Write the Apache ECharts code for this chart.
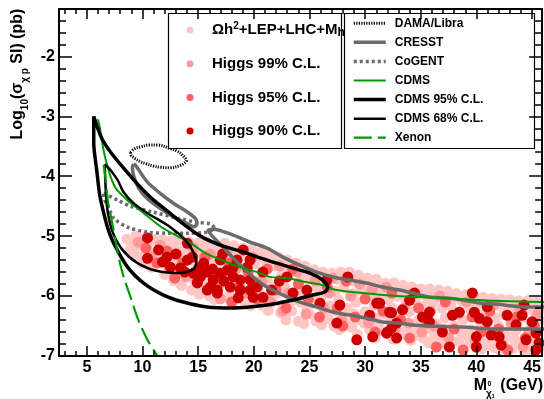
<!DOCTYPE html>
<html>
<head>
<meta charset="utf-8">
<script src="https://cdn.jsdelivr.net/npm/echarts@6/dist/echarts.min.js"></script>
<style>
html,body{margin:0;padding:0;background:#fff;}
#c{width:544px;height:399px;}
</style>
</head>
<body>
<div id="c"></div>
<script>
const FONT = '"Liberation Sans", Arial, Helvetica, sans-serif';

// Axis ranges and tick labels
const xRange = [2.5, 45.9];
const yRange = [-7, -1.21];
const xTicks = [5, 10, 15, 20, 25, 30, 35, 40, 45];
const yTicks = [-7, -6, -5, -4, -3, -2];

// Scan points: [neutralino mass (GeV), log10 sigma_SI (pb)]
const relicLepLhc = [
[8.6,-5.05],[8.9,-5.22],
[9.4,-5.0],[9.7,-5.15],[9.3,-5.3],
[10.2,-5.02],[10.5,-5.25],[10.0,-5.45],
[11.0,-5.05],[11.3,-5.3],[10.8,-5.52],
[11.8,-5.06],[12.1,-5.22],[11.6,-5.45],[12.0,-5.64],
[12.6,-5.08],[12.9,-5.35],[12.4,-5.56],[12.8,-5.74],
[13.4,-5.05],[13.7,-5.25],[13.2,-5.5],[13.5,-5.82],
[14.2,-5.1],[14.5,-5.4],[14.0,-5.62],[14.4,-5.9],
[15.0,-5.12],[15.3,-5.3],[14.8,-5.55],[15.2,-5.8],[15.1,-5.97],
[15.8,-5.1],[16.1,-5.45],[15.7,-5.7],[16.0,-6.0],
[16.6,-5.15],[16.9,-5.36],[16.4,-5.62],[16.8,-5.9],[16.5,-6.06],
[17.4,-5.12],[17.7,-5.5],[17.2,-5.76],[17.6,-6.02],
[18.2,-5.16],[18.5,-5.4],[18.0,-5.66],[18.4,-5.96],[18.1,-6.12],
[19.0,-5.2],[19.3,-5.56],[18.8,-5.8],[19.2,-6.1],
[19.8,-5.22],[20.1,-5.46],[19.6,-5.7],[20.0,-6.0],[19.7,-6.16],
[20.6,-5.27],[20.9,-5.6],[20.4,-5.9],[20.8,-6.16],
[21.4,-5.3],[21.7,-5.5],[21.2,-5.76],[21.6,-6.06],[21.3,-6.24],
[22.2,-5.35],[22.5,-5.66],[22.0,-5.96],[22.4,-6.28],
[23.0,-5.4],[23.3,-5.6],[22.8,-5.86],[23.2,-6.12],[22.9,-6.4],
[23.8,-5.45],[24.1,-5.76],[23.6,-6.06],[24.0,-6.42],
[24.6,-5.5],[24.9,-5.7],[24.4,-5.96],[24.8,-6.22],[24.5,-6.46],
[25.4,-5.56],[25.7,-5.86],[25.2,-6.12],[25.6,-6.42],
[26.2,-5.6],[26.5,-5.8],[26.0,-6.02],[26.4,-6.3],[26.1,-6.48],
[27.0,-5.62],[27.3,-5.92],[26.8,-6.16],[27.2,-6.5],
[27.8,-5.6],[28.1,-5.86],[27.6,-6.06],[28.0,-6.36],[27.7,-6.56],
[28.6,-5.6],[28.9,-5.96],[28.4,-6.2],[28.8,-6.52],
[29.4,-5.65],[29.7,-5.9],[29.2,-6.1],[29.6,-6.4],[29.3,-6.64],
[30.2,-5.7],[30.5,-6.0],[30.0,-6.26],[30.4,-6.56],
[31.0,-5.72],[31.3,-5.96],[30.8,-6.16],[31.2,-6.46],[30.9,-6.7],
[31.8,-5.78],[32.1,-6.06],[31.6,-6.3],[32.0,-6.62],
[32.6,-5.78],[32.9,-6.0],[32.4,-6.2],[32.8,-6.5],[32.5,-6.72],
[33.4,-5.82],[33.7,-6.1],[33.2,-6.36],[33.6,-6.64],
[34.2,-5.85],[34.5,-6.06],[34.0,-6.26],[34.4,-6.56],[34.1,-6.74],
[35.0,-5.88],[35.3,-6.16],[34.8,-6.4],[35.2,-6.7],
[35.8,-5.88],[36.1,-6.1],[35.6,-6.3],[36.0,-6.56],[35.7,-6.78],
[36.6,-5.9],[36.9,-6.2],[36.4,-6.46],[36.8,-6.72],
[37.4,-5.92],[37.7,-6.16],[37.2,-6.36],[37.6,-6.6],[37.3,-6.82],
[38.2,-5.96],[38.5,-6.26],[38.0,-6.5],[38.4,-6.76],
[39.0,-5.98],[39.3,-6.2],[38.8,-6.4],[39.2,-6.66],[38.9,-6.86],
[39.8,-6.0],[40.1,-6.3],[39.6,-6.56],[40.0,-6.8],
[40.6,-6.02],[40.9,-6.26],[40.4,-6.46],[40.8,-6.7],[40.5,-6.88],
[41.4,-6.04],[41.7,-6.36],[41.2,-6.6],[41.6,-6.86],
[42.2,-6.05],[42.5,-6.3],[42.0,-6.5],[42.4,-6.76],[42.1,-6.9],
[43.0,-6.06],[43.3,-6.4],[42.8,-6.66],[43.2,-6.88],
[43.8,-6.08],[44.1,-6.36],[43.6,-6.56],[44.0,-6.8],
[44.6,-6.08],[44.9,-6.46],[44.4,-6.7],[44.8,-6.92],
[45.4,-6.1],[45.7,-6.4],[45.2,-6.6],[45.6,-6.86],
[9.0,-5.1],[9.9,-5.35],[10.6,-5.1],[11.5,-5.35],[12.3,-5.15],[12.2,-5.45],[13.0,-5.2],[13.0,-5.65],
[13.8,-5.4],[14.6,-5.25],[14.7,-5.75],[15.5,-5.2],[15.5,-5.6],[16.2,-5.25],[16.3,-5.85],[17.0,-5.25],
[17.0,-5.6],[17.9,-5.3],[17.9,-5.85],[18.7,-5.28],[18.6,-6.0],[19.5,-5.35],[19.4,-5.95],[20.3,-5.35],
[20.2,-5.75],[21.0,-5.4],[21.0,-6.08],[21.9,-5.45],[21.8,-5.85],[22.7,-5.5],[22.6,-6.15],[23.5,-5.52],
[23.4,-6.25],[24.3,-5.6],[24.2,-6.1],[25.0,-5.6],[25.0,-6.3],[25.8,-5.7],[25.9,-6.0],[26.6,-5.7],
[26.7,-6.38],[27.5,-5.72],[27.4,-6.25],[28.3,-5.7],[28.3,-6.45],[29.0,-5.75],[29.0,-6.3],[29.9,-5.8],
[29.9,-6.45],[30.7,-5.82],[30.7,-6.35],[31.5,-5.85],[31.5,-6.58],[32.3,-5.88],[32.3,-6.4],[33.1,-5.9],
[33.0,-6.6],[33.9,-5.95],[33.8,-6.5],[34.7,-5.95],[34.6,-6.65],[35.5,-6.0],[35.4,-6.55],[36.3,-6.0],
[36.2,-6.7],[37.1,-6.02],[37.0,-6.55],[37.9,-6.05],[37.8,-6.75],[38.7,-6.08],[38.6,-6.6],[39.5,-6.1],
[39.4,-6.78],[40.3,-6.12],[40.2,-6.65],[41.1,-6.15],[41.0,-6.82],[41.9,-6.15],[41.8,-6.7],[42.7,-6.18],
[42.6,-6.85],[43.5,-6.2],[43.4,-6.72],[44.3,-6.22],[44.2,-6.9],[45.1,-6.25],[45.0,-6.75],[45.8,-6.2]
];

const higgs99 = [
[9.6,-5.1],[10.8,-5.35],[11.6,-5.15],[12.4,-5.55],[13.1,-5.3],[13.9,-5.68],[14.6,-5.2],[15.3,-5.6],
[16.1,-5.3],[16.9,-5.8],[17.6,-5.25],[18.4,-5.55],[19.2,-5.95],[19.9,-5.35],[20.7,-5.75],[21.5,-6.1],
[22.3,-5.5],[23.1,-5.95],[23.9,-5.6],[24.7,-6.3],[25.5,-5.75],[26.3,-6.2],[27.1,-5.7],[27.9,-6.4],
[28.7,-6.0],[29.5,-5.8],[30.3,-6.45],[31.1,-6.1],[31.9,-5.85],[32.7,-6.55],[33.5,-6.2],[34.3,-5.95],
[35.1,-6.6],[35.9,-6.25],[36.7,-6.0],[37.5,-6.7],[38.3,-6.3],[39.1,-6.1],[39.9,-6.75],[40.7,-6.4],
[41.5,-6.15],[42.3,-6.8],[43.1,-6.45],[43.9,-6.2],[44.7,-6.6],[45.5,-6.3],[17.0,-6.05],[26.8,-5.95],
[30.6,-5.9],[36.2,-6.5],[41.0,-6.6],[44.2,-6.85],[22.6,-6.25],[33.9,-6.45]
];

const higgs95 = [
[10.3,-5.2],[11.3,-5.45],[12.2,-5.25],[13.6,-5.45],[14.9,-5.75],[15.6,-5.35],[16.4,-5.65],[17.8,-5.45],
[18.7,-5.85],[19.5,-5.6],[20.3,-6.05],[21.2,-5.55],[22.0,-5.9],[22.9,-6.2],[24.0,-5.8],[24.9,-6.05],
[25.9,-6.35],[26.6,-5.85],[27.5,-6.2],[28.3,-5.75],[29.1,-6.35],[30.0,-6.05],[30.9,-6.6],[31.6,-6.25],
[32.4,-5.95],[33.2,-6.4],[34.0,-6.7],[34.8,-6.2],[35.6,-6.45],[36.4,-6.85],[37.2,-6.1],[38.0,-6.55],
[38.8,-6.9],[39.6,-6.35],[40.4,-6.6],[41.2,-6.25],[42.0,-6.55],[42.8,-6.9],[43.6,-6.35],[44.4,-6.7],
[45.2,-6.5],[12.9,-5.7],[18.0,-6.1],[23.5,-5.55],[28.0,-6.5]
];

const higgs90 = [
[10.45,-5.03],[11.44,-5.23],[11.8,-5.43],[10.45,-5.37],[12.51,-5.52],[13.41,-5.53],[14.03,-5.4],[14.57,-5.62],
[15.2,-5.68],[15.82,-5.6],[16.36,-5.73],[14.93,-5.78],[15.82,-5.9],[16.72,-5.9],[14.03,-5.12],[15.2,-5.52],
[16.99,-5.4],[17.61,-5.57],[18.15,-5.68],[19.4,-5.52],[19.67,-5.73],[18.78,-5.9],[17.88,-5.85],[16.09,-5.85],
[20.3,-5.85],[19.94,-6.02],[18.6,-6.03],[16.72,-5.95],[19.05,-5.23],[19.67,-5.4],[18.15,-5.52],[16.99,-5.62],
[18.78,-5.73],[19.67,-5.9],[20.83,-6.02],[22.98,-5.68],[24.77,-5.9],[23.52,-5.95],[26.56,-5.73],[25.94,-6.12],
[27.73,-6.15],[28.44,-5.68],[27.46,-6.45],[29.25,-6.73],[30.68,-6.68],[31.31,-6.12],[31.93,-6.62],[32.38,-6.28],
[32.83,-6.45],[30.41,-6.32],[31.04,-6.12],[32.2,-6.27],[32.38,-6.53],[32.83,-6.7],[33.36,-6.23],[33.99,-6.07],
[34.44,-5.95],[35.15,-6.35],[35.78,-6.27],[35.78,-6.43],[32.02,-6.6],[36.94,-6.6],[37.57,-6.85],[37.84,-6.32],
[38.46,-6.27],[39.63,-5.95],[39.81,-6.27],[40.25,-6.37],[40.97,-6.43],[40.97,-6.18],[39.99,-6.68],[39.99,-6.85],
[41.33,-6.65],[42.04,-6.68],[42.22,-6.82],[42.76,-6.32],[43.56,-6.48],[44.1,-6.32],[44.28,-6.15],[44.46,-6.73],
[45.0,-6.43],[45.35,-6.62],[45.62,-6.78],[45.35,-6.9],
[13.0,-5.3],[13.8,-5.6],[14.5,-5.35],[15.5,-5.45],[16.3,-5.55],[17.3,-5.75],[18.5,-5.4],[17.2,-5.3],
[20.8,-5.6],[21.6,-5.9],[22.3,-5.75],[12.2,-5.35]
];

// Experimental regions and limits
const damaLibra = [
[8.93,-3.6],[9.3,-3.54],[9.83,-3.51],[10.6,-3.48],[11.35,-3.48],[12.5,-3.54],[13.1,-3.58],[13.6,-3.65],
[13.94,-3.745],[13.7,-3.79],[13.4,-3.82],[12.5,-3.86],[11.6,-3.85],[10.99,-3.83],[10.3,-3.79],[9.83,-3.76],
[9.3,-3.7],[8.95,-3.64],[8.93,-3.6]
];
const cresstLow = [
[9.2,-3.8],[9.38,-3.82],[10.43,-4.095],[11.62,-4.29],[12.81,-4.455],[14.01,-4.595],[14.75,-4.705],[14.9,-4.79],
[14.6,-4.845],[14.01,-4.79],[12.81,-4.68],[11.62,-4.54],[10.43,-4.37],[9.68,-4.205],[9.23,-4.01],[9.09,-3.845],[9.2,-3.8]
];
const cresstHigh = [
[46.16,-6.55],[44.73,-6.55],[41.77,-6.55],[38.73,-6.517],[35.78,-6.5],[34.26,-6.483],[33.09,-6.45],[31.57,-6.433],
[30.13,-6.367],[28.61,-6.317],[27.09,-6.267],[25.66,-6.183],[24.14,-6.1],[22.62,-5.983],[21.19,-5.85],[19.94,-5.683],
[19.05,-5.533],[18.15,-5.367],[17.25,-5.183],[16.36,-5.017],[15.91,-4.9],
[16.36,-4.883],[18.15,-4.983],[19.67,-5.1],[21.19,-5.2],[22.62,-5.35],[24.14,-5.483],[25.66,-5.6],[27.09,-5.683],
[28.61,-5.733],[30.13,-5.783],[31.57,-5.85],[33.09,-5.9],[34.26,-5.95],[35.78,-6.017],[37.3,-6.033],[38.73,-6.067],
[40.25,-6.117],[41.77,-6.133],[43.21,-6.167],[44.73,-6.183],[46.16,-6.183]
];
const cogent = [
[6.52,-4.283],[7.77,-4.4],[8.93,-4.5],[10.99,-4.6],[13.14,-4.7],[14.93,-4.767],[16.09,-4.8],[16.45,-4.867],
[15.82,-4.933],[14.03,-4.95],[12.24,-4.95],[10.45,-4.933],[8.66,-4.85],[7.41,-4.7],[6.97,-4.533],[6.52,-4.333],[6.52,-4.283]
];
const cdms = [
[5.98,-3.05],[6.1,-3.12],[6.4,-3.46],[6.7,-3.73],[7.14,-4.01],[7.6,-4.2],[8.64,-4.4],[10.13,-4.62],
[11.62,-4.84],[13.11,-5.0],[14.03,-5.08],[15.2,-5.23],[15.82,-5.3],[16.99,-5.39],[18.78,-5.52],[20.3,-5.6],
[21.46,-5.68],[22.98,-5.7],[24.77,-5.77],[26.2,-5.82],[27.45,-5.9],[29.78,-5.95],[32.83,-6.0],[36.67,-6.03],
[41.77,-6.08],[46.16,-6.1]
];
const cdms95 = [
[5.62,-3.0],[5.98,-3.2],[6.43,-3.4],[7.14,-3.6],[8.31,-3.867],[9.56,-4.133],[10.72,-4.35],[12.24,-4.583],
[13.68,-4.8],[15.2,-5.0],[16.99,-5.15],[19.05,-5.267],[21.19,-5.4],[23.25,-5.517],[25.04,-5.617],[26.2,-5.733],
[26.65,-5.85],[26.38,-5.933],[25.31,-5.983],[23.52,-6.067],[21.19,-6.15],[18.15,-6.2],[15.82,-6.183],[13.68,-6.1],
[11.89,-5.983],[10.1,-5.783],[8.66,-5.517],[7.41,-5.117],[6.88,-4.867],[6.52,-4.617],[6.16,-4.317],[5.89,-3.9],
[5.62,-3.45],[5.62,-3.0]
];
const cdms68 = [
[6.61,-3.8],[7.14,-3.9],[7.77,-4.067],[8.31,-4.267],[9.2,-4.45],[10.45,-4.617],[12.51,-4.85],[13.86,-5.067],
[14.57,-5.267],[14.84,-5.433],[14.57,-5.55],[13.41,-5.617],[11.35,-5.583],[9.56,-5.45],[8.22,-5.233],[7.32,-4.933],
[6.88,-4.6],[6.7,-4.233],[6.61,-3.8]
];
const xenon = [
[6.52,-3.817],[6.7,-4.067],[6.88,-4.4],[7.14,-4.65],[7.41,-4.9],[7.77,-5.283],[8.31,-5.683],[8.93,-6.017],
[9.56,-6.367],[10.45,-6.733],[11.35,-7.0],[11.62,-7.1]
];

const NAME_RELIC = 'Ωh2+LEP+LHC+Mh';
const scanNames = [NAME_RELIC, 'Higgs 99% C.L.', 'Higgs 95% C.L.', 'Higgs 90% C.L.'];
const expNames = ['DAMA/Libra', 'CRESST', 'CoGENT', 'CDMS', 'CDMS 95% C.L.', 'CDMS 68% C.L.', 'Xenon'];

// minor tick positions between labelled ticks
const xMinor = [];
for (let v = 3; v <= 45; v++) if (v % 5 !== 0) xMinor.push(v);
const yMinor = [];
for (let k = 0; k <= 28; k++) {
  const v = Math.round((-7 + k * 0.2) * 10) / 10;
  if (Math.abs(v - Math.round(v)) > 1e-6) yMinor.push(v);
}

const GRAY = '#6b6b6b';
const GREEN = '#009a00';

function frameAxis(position, range, tickVals, len, withLine, labels) {
  return {
    type: 'value', position: position, min: range[0], max: range[1], z: 10,
    splitLine: { show: false },
    axisLine: { show: withLine, onZero: false, lineStyle: { color: '#000', width: 2 } },
    axisTick: { show: true, inside: true, length: len, customValues: tickVals, lineStyle: { color: '#000', width: 1.5 } },
    axisLabel: labels ? Object.assign({ show: true, customValues: tickVals, color: '#000',
      fontFamily: FONT, fontSize: 16, fontWeight: 'bold' }, labels) : { show: false }
  };
}

function scan(name, data, color) {
  return { type: 'scatter', name: name, data: data, symbol: 'circle', symbolSize: 11,
    itemStyle: { color: color, opacity: 1 }, z: 2, silent: true };
}
function curve(name, data, color, width, type, smooth) {
  return { type: 'line', name: name, data: data, symbol: 'none', smooth: smooth,
    lineStyle: { color: color, width: width, type: type }, itemStyle: { color: color },
    z: 3, silent: true, clip: true };
}

const option = {
  animation: false,
  backgroundColor: '#fff',
  grid: { left: 59, right: 1, top: 9, bottom: 43, containLabel: false },
  xAxis: [
    frameAxis('bottom', xRange, xTicks, 10, true, { margin: 4 }),
    frameAxis('bottom', xRange, xMinor, 5, false, null),
    frameAxis('top', xRange, xTicks, 10, true, null),
    frameAxis('top', xRange, xMinor, 5, false, null)
  ],
  yAxis: [
    frameAxis('left', yRange, yTicks, 13, true, { margin: 4 }),
    frameAxis('left', yRange, yMinor, 7, false, null),
    frameAxis('right', yRange, yTicks, 13, true, null),
    frameAxis('right', yRange, yMinor, 7, false, null)
  ],
  legend: [
    {
      data: scanNames, orient: 'vertical', left: 186.5, top: 21, padding: 0,
      itemWidth: 7, itemHeight: 7, itemGap: 15.7, icon: 'circle', selectedMode: false, z: 6,
      textStyle: { fontFamily: FONT, fontSize: 15, fontWeight: 'bold', color: '#000', lineHeight: 18,
        padding: [0, 0, 0, 13.5],
        rich: {
          t: { fontFamily: FONT, fontSize: 15, fontWeight: 'bold', color: '#000', lineHeight: 18, verticalAlign: 'middle' },
          sup: { fontFamily: FONT, fontSize: 10, fontWeight: 'bold', color: '#000', lineHeight: 10, verticalAlign: 'top' },
          sub: { fontFamily: FONT, fontSize: 12, fontWeight: 'bold', color: '#000', lineHeight: 12, verticalAlign: 'bottom' }
        } },
      formatter: function (name) {
        return name === NAME_RELIC ? '{t|Ωh}{sup|2}{t|+LEP+LHC+M}{sub|h}' : name;
      }
    },
    {
      data: expNames, orient: 'vertical', left: 352, top: 16.3, padding: 0,
      itemWidth: 32, itemHeight: 14, itemGap: 5.07, selectedMode: false, z: 6,
      // line samples only, no marker in the middle
      itemStyle: { color: 'rgba(0,0,0,0)', borderColor: 'rgba(0,0,0,0)', borderWidth: 0 },
      lineStyle: { width: 'inherit' },
      textStyle: { fontFamily: FONT, fontSize: 12, fontWeight: 'bold', color: '#000', lineHeight: 14,
        padding: [0, 0, 0, 4] }
    }
  ],
  graphic: [
    { type: 'rect', z: 5, shape: { x: 168.5, y: 13.5, width: 173, height: 135 },
      style: { fill: '#fff', stroke: '#000', lineWidth: 1.2 } },
    { type: 'rect', z: 5, shape: { x: 344.5, y: 13.5, width: 190, height: 135 },
      style: { fill: '#fff', stroke: '#000', lineWidth: 1.2 } },
    { type: 'text', z: 6, x: 18, y: 74, rotation: Math.PI / 2,
      style: { text: '{b|Log}{s|10}{b|(σ}{s|χ p}{b| SI) (pb)}', align: 'center', verticalAlign: 'middle', fill: '#000',
        rich: {
          b: { fontFamily: FONT, fontSize: 16, fontWeight: 'bold', lineHeight: 24, verticalAlign: 'middle', fill: '#000' },
          s: { fontFamily: FONT, fontSize: 10, fontWeight: 'bold', lineHeight: 10, verticalAlign: 'bottom', fill: '#000' }
        } } },
    { type: 'text', z: 6, x: 487, y: 386,
      style: { text: 'M', align: 'right', verticalAlign: 'middle', fill: '#000',
        font: 'bold 16px ' + FONT } },
    { type: 'text', z: 6, x: 543, y: 386,
      style: { text: '(GeV)', align: 'right', verticalAlign: 'middle', fill: '#000',
        font: 'bold 16px ' + FONT } },
    { type: 'text', z: 6, x: 487.5, y: 384,
      style: { text: '0', align: 'left', verticalAlign: 'middle', fill: '#000', font: 'bold 7px ' + FONT } },
    { type: 'text', z: 6, x: 486, y: 394,
      style: { text: 'χ', align: 'left', verticalAlign: 'middle', fill: '#000', font: 'bold 10px ' + FONT } },
    { type: 'text', z: 6, x: 491.5, y: 396.5,
      style: { text: '1', align: 'left', verticalAlign: 'middle', fill: '#000', font: 'bold 6px ' + FONT } }
  ],
  series: [
    scan(NAME_RELIC, relicLepLhc, '#ffc6c6'),
    scan('Higgs 99% C.L.', higgs99, '#ff9b9b'),
    scan('Higgs 95% C.L.', higgs95, '#ff6161'),
    scan('Higgs 90% C.L.', higgs90, '#cc0000'),
    curve('DAMA/Libra', damaLibra, '#000', 3, [1.2, 1.3], 0.4),
    curve('CRESST', cresstLow, GRAY, 3.5, 'solid', 0.3),
    curve('CRESST', cresstHigh, GRAY, 3.5, 'solid', 0.3),
    curve('CoGENT', cogent, GRAY, 3.5, [3, 3], 0.3),
    curve('CDMS', cdms, GREEN, 2, 'solid', 0.3),
    curve('CDMS 95% C.L.', cdms95, '#000', 3.5, 'solid', 0.25),
    curve('CDMS 68% C.L.', cdms68, '#000', 2.5, 'solid', 0.25),
    curve('Xenon', xenon, GREEN, 2.2, [18, 6], 0.3)
  ]
};

const chart = echarts.init(document.getElementById('c'), null, { renderer: 'canvas', width: 544, height: 399 });
chart.setOption(option);
</script>
</body>
</html>
